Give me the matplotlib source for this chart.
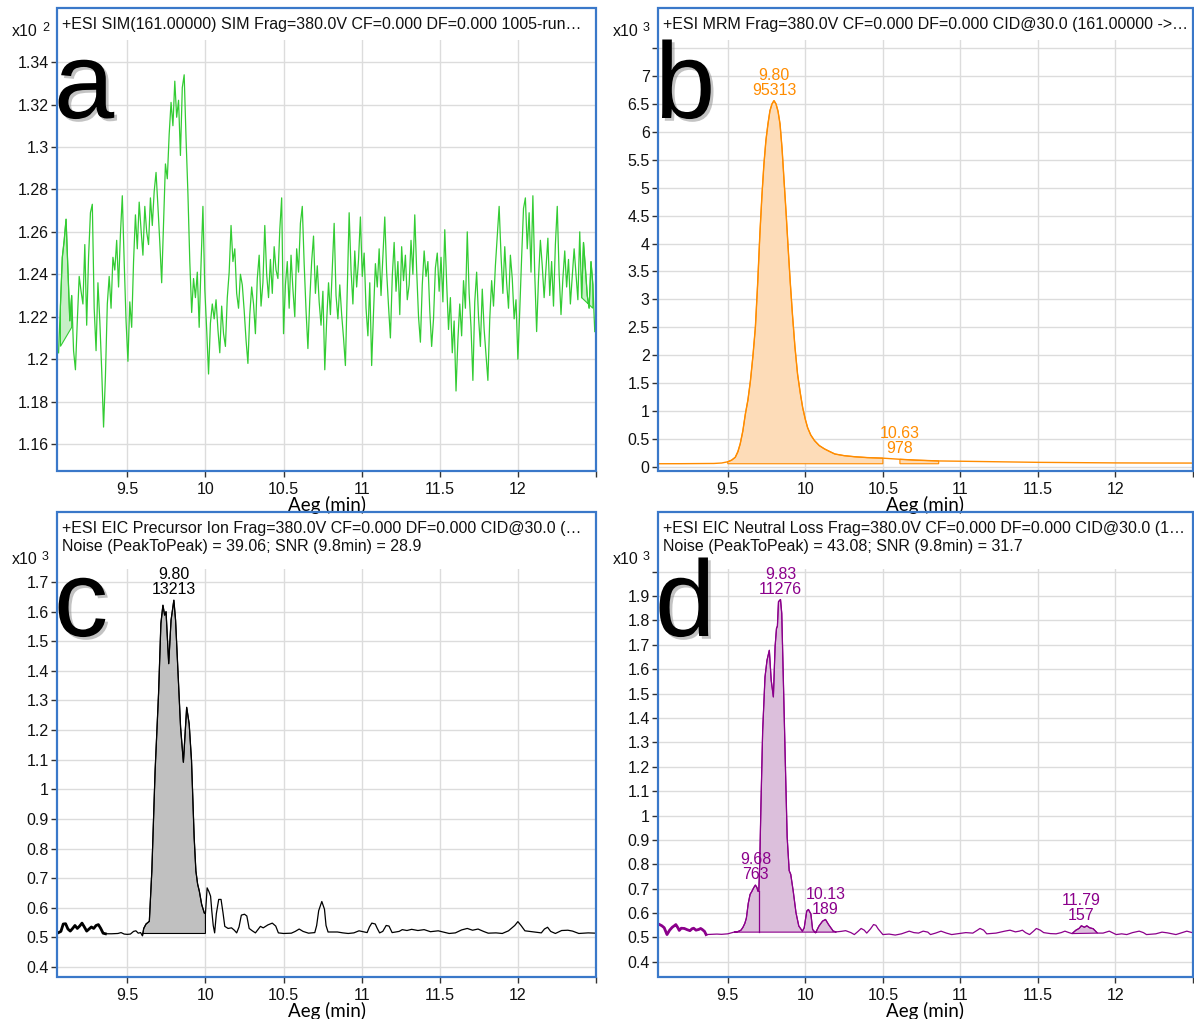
import numpy as np
import matplotlib.pyplot as plt
from matplotlib.patches import Rectangle
import matplotlib.patheffects as pe

plt.rcParams['font.family'] = ['Liberation Sans', 'DejaVu Sans']

W, H = 1194, 1019

# ---------------- data ----------------
# a: SIM trace, counts (shown x10^2), sampled every 0.012 min from 9.06
sim_start, sim_step = 9.06, 0.012
sim_counts = [
    120.3, 122.5, 124.8, 125.6, 126.6, 124.2, 121.8, 123.0, 120.4, 119.5,
    121.8, 123.9, 123.2, 122.6, 125.4, 121.6, 124.8, 126.9, 127.3, 122.4,
    120.4, 123.6, 121.8, 119.5, 116.8, 119.2, 122.6, 123.9, 122.4, 124.8,
    124.2, 125.6, 123.4, 125.9, 127.7, 124.6, 121.8, 119.9, 122.7, 121.5,
    124.6, 126.8, 125.2, 127.4, 126.1, 124.9, 127.2, 126.0, 125.4, 127.6,
    126.3, 127.9, 128.8, 127.2, 125.5, 123.6, 126.4, 129.2, 128.5, 130.6,
    132.1, 131.0, 133.1, 131.4, 132.2, 129.6, 132.8, 133.4, 130.4, 127.8,
    124.6, 122.2, 123.8, 122.9, 124.1, 121.5, 124.5, 127.2, 123.3, 121.4,
    119.3, 121.7, 122.6, 121.9, 122.8, 121.4, 120.3, 122.5, 121.2, 120.6,
    122.9, 124.1, 126.3, 124.6, 125.2, 123.1, 122.4, 124.0, 123.5, 122.3,
    120.9, 119.8, 122.1, 123.4, 122.6, 121.2, 123.8, 124.9, 122.5, 123.6,
    126.3, 124.0, 122.9, 124.7, 123.1, 125.3, 124.2, 123.8, 126.1, 127.6,
    121.2, 123.5, 124.6, 122.4, 124.9, 123.3, 122.0, 125.2, 124.1, 126.4,
    127.2, 124.5, 122.3, 120.5, 122.8, 124.6, 125.8, 123.1, 124.4, 122.7,
    121.6, 123.2, 119.5, 121.8, 123.6, 122.1, 124.3, 126.4, 123.0, 121.9,
    123.5, 122.1, 121.0, 119.7, 123.4, 126.9, 124.2, 122.6, 125.1, 123.4,
    124.7, 126.7, 123.9, 125.0, 122.4, 121.1, 123.6, 119.7, 122.2, 124.5,
    123.4, 125.2, 123.0, 124.8, 126.7, 124.1, 122.5, 121.0, 123.9, 125.5,
    123.2, 124.6, 122.1, 125.3, 123.7, 124.9, 122.8, 123.5, 125.6, 124.0,
    126.8, 124.2, 122.0, 120.8, 123.5, 125.1, 123.9, 124.6, 122.3, 120.6,
    121.9, 124.3, 125.0, 123.2, 124.8, 122.7, 126.1, 123.6, 121.4, 122.9,
    120.3, 121.8, 118.5, 120.9, 122.6, 121.1, 123.7, 122.4, 126.0, 123.1,
    121.5, 119.0, 122.7, 124.1, 122.0, 120.6, 123.3, 121.4, 120.2, 119.0,
    121.9, 123.7, 122.5, 124.4, 125.8, 127.2, 124.9, 123.1, 125.3, 123.6,
    122.4, 124.9, 123.8, 121.9, 122.8, 120.0, 122.3, 124.8, 127.1, 127.6,
    125.2, 126.9, 124.1, 127.7, 124.0, 121.3, 123.8, 125.6, 124.4, 122.9,
    124.3, 125.7, 123.0, 124.6, 122.5, 125.4, 127.2, 124.0, 122.1, 123.8,
    125.1, 123.4, 124.7, 122.6, 123.9, 125.2, 124.0, 122.8, 126.0, 122.9,
    125.5, 124.3, 123.0, 122.4, 124.6, 123.5, 121.3,
]
# integrated regions: (start, base at start, end, base at end)
sim_regions = [(9.072, 120.6, 9.144, 121.5), (12.408, 122.9, 12.48, 122.4)]

# b: MRM trace, counts (shown x10^3)
mrm_time = [9.06, 9.20, 9.30, 9.41, 9.46, 9.50, 9.525, 9.548, 9.565, 9.58,
            9.597, 9.613, 9.63, 9.646, 9.662, 9.678, 9.693, 9.707, 9.72, 9.733,
            9.746, 9.759, 9.772, 9.785, 9.798, 9.811, 9.824, 9.837, 9.85, 9.863,
            9.876, 9.889, 9.903, 9.917, 9.933, 9.95, 9.967, 9.983, 10.0, 10.015,
            10.035, 10.059, 10.09, 10.124, 10.16, 10.19, 10.25, 10.32, 10.40, 10.50,
            10.61, 10.71, 10.86, 11.0, 11.25, 11.5, 11.75, 12.0, 12.25, 12.5]
mrm_counts = [55, 56, 58, 60, 68, 90, 120, 170, 270, 410,
              640, 940, 1200, 1540, 1980, 2500, 3300, 4170, 4850, 5420,
              5850, 6140, 6380, 6500, 6560, 6500, 6370, 6140, 5700, 5120,
              4550, 3930, 3300, 2730, 2150, 1660, 1330, 1060, 850, 700,
              570, 470, 380, 320, 270, 230, 200, 180, 165, 155,
              135, 120, 105, 100, 90, 80, 75, 70, 68, 67]
mrm_regions = [(9.50, 55, 10.50, 55), (10.61, 55, 10.86, 55)]
mrm_peak_rt = [9.80, 10.63]
mrm_peak_area = [95313, 978]

# c: EIC precursor ion, counts (shown x10^3)
pre_time = [9.060, 9.075, 9.090, 9.105, 9.120, 9.135, 9.150, 9.165, 9.180, 9.195,
            9.210, 9.225, 9.240, 9.255, 9.270, 9.285, 9.300, 9.315, 9.330, 9.345,
            9.360, 9.400, 9.440, 9.460, 9.480, 9.500, 9.520, 9.540, 9.555, 9.570,
            9.585, 9.597, 9.605, 9.620, 9.641, 9.657, 9.678, 9.700, 9.715, 9.728,
            9.739, 9.748, 9.765, 9.780, 9.798, 9.809, 9.824, 9.841, 9.859, 9.880,
            9.896, 9.911, 9.928, 9.939, 9.950, 9.961, 9.976, 9.993, 10.000, 10.011,
            10.022, 10.033, 10.041, 10.050, 10.059, 10.070, 10.085, 10.100, 10.112, 10.124,
            10.145, 10.167, 10.185, 10.200, 10.215, 10.230, 10.250, 10.265, 10.280, 10.300,
            10.320, 10.352, 10.370, 10.400, 10.428, 10.450, 10.467, 10.500, 10.550, 10.575,
            10.600, 10.625, 10.660, 10.700, 10.712, 10.725, 10.745, 10.762, 10.772, 10.785,
            10.845, 10.880, 10.914, 10.950, 10.983, 11.010, 11.035, 11.050, 11.065, 11.087,
            11.100, 11.115, 11.135, 11.157, 11.175, 11.195, 11.240, 11.260, 11.290, 11.320,
            11.360, 11.400, 11.440, 11.490, 11.530, 11.560, 11.600, 11.640, 11.676, 11.710,
            11.745, 11.780, 11.810, 11.860, 11.900, 11.940, 11.980, 12.000, 12.020, 12.045,
            12.090, 12.150, 12.170, 12.190, 12.210, 12.240, 12.280, 12.320, 12.350, 12.390,
            12.450, 12.500]
pre_counts = [516, 520, 545, 546, 528, 521, 530, 540, 530, 538,
              548, 535, 521, 528, 535, 530, 540, 543, 530, 514,
              512, 512, 513, 516, 511, 510, 511, 520, 522, 514,
              516, 505, 530, 545, 554, 724, 1063, 1323, 1560, 1622,
              1588, 1600, 1424, 1571, 1639, 1571, 1400, 1210, 1091, 1277,
              1221, 1097, 837, 724, 680, 656, 611, 582, 580, 667,
              655, 639, 588, 540, 515, 580, 628, 628, 585, 537,
              530, 532, 524, 515, 535, 575, 578, 572, 530, 522,
              515, 537, 532, 542, 548, 538, 515, 513, 514, 520,
              528, 520, 514, 516, 540, 590, 621, 595, 540, 518,
              518, 515, 513, 515, 522, 519, 516, 535, 548, 545,
              530, 515, 520, 540, 538, 516, 520, 526, 523, 527,
              523, 526, 519, 522, 517, 513, 515, 525, 530, 524,
              528, 520, 514, 515, 513, 522, 540, 553, 540, 522,
              519, 515, 528, 534, 520, 513, 523, 524, 521, 513,
              515, 514]
pre_regions = [(9.597, 513, 10.000, 513)]
pre_peak_rt = [9.80]
pre_peak_area = [13213]

# d: EIC neutral loss, counts (shown x10^3)
nl_time = [9.060, 9.075, 9.090, 9.108, 9.125, 9.142, 9.155, 9.165, 9.178, 9.187,
           9.200, 9.220, 9.238, 9.256, 9.270, 9.280, 9.295, 9.313, 9.325, 9.335,
           9.350, 9.360, 9.400, 9.430, 9.460, 9.500, 9.530, 9.540, 9.564, 9.585,
           9.598, 9.610, 9.620, 9.632, 9.644, 9.656, 9.667, 9.678, 9.688, 9.694,
           9.700, 9.706, 9.714, 9.725, 9.740, 9.753, 9.768, 9.780, 9.794, 9.805,
           9.814, 9.820, 9.827, 9.840, 9.848, 9.861, 9.872, 9.883, 9.896, 9.906,
           9.922, 9.940, 9.958, 9.981, 9.993, 10.009, 10.020, 10.036, 10.047, 10.066,
           10.088, 10.111, 10.130, 10.150, 10.180, 10.200, 10.230, 10.260, 10.294, 10.316,
           10.340, 10.360, 10.380, 10.396, 10.420, 10.440, 10.455, 10.470, 10.500, 10.540,
           10.580, 10.620, 10.670, 10.700, 10.730, 10.760, 10.790, 10.807, 10.840, 10.875,
           10.910, 10.944, 10.990, 11.035, 11.080, 11.110, 11.126, 11.150, 11.170, 11.230,
           11.286, 11.320, 11.355, 11.380, 11.400, 11.420, 11.446, 11.470, 11.490, 11.515,
           11.537, 11.580, 11.617, 11.650, 11.674, 11.700, 11.720, 11.745, 11.765, 11.780,
           11.800, 11.815, 11.833, 11.856, 11.884, 11.920, 11.960, 12.005, 12.040, 12.073,
           12.110, 12.153, 12.180, 12.200, 12.260, 12.300, 12.335, 12.390, 12.430, 12.460,
           12.506]
nl_counts = [553, 548, 540, 512, 530, 542, 548, 553, 540, 529,
             538, 537, 532, 528, 536, 538, 530, 533, 537, 533,
             525, 512, 513, 514, 513, 515, 520, 522, 524, 530,
             542, 558, 580, 640, 677, 690, 704, 715, 705, 690,
             690, 801, 1048, 1349, 1568, 1637, 1678, 1555, 1486, 1692,
             1767, 1777, 1877, 1886, 1829, 1486, 1185, 911, 774, 759,
             690, 601, 547, 526, 540, 608, 615, 596, 533, 519,
             547, 567, 574, 553, 526, 523, 525, 528, 520, 512,
             525, 537, 530, 518, 535, 553, 550, 535, 512, 514,
             510, 515, 526, 520, 518, 526, 522, 512, 518, 526,
             518, 512, 516, 520, 518, 530, 537, 530, 515, 518,
             526, 530, 523, 526, 530, 520, 512, 525, 537, 530,
             520, 516, 515, 520, 526, 520, 516, 530, 537, 548,
             542, 548, 540, 536, 518, 518, 526, 512, 515, 512,
             520, 526, 520, 512, 515, 522, 519, 512, 520, 526,
             518]
nl_regions = [(9.540, 522, 10.066, 522), (10.066, 522, 10.200, 522),
              (11.720, 516, 11.884, 518)]
nl_split_rt = 9.700
nl_peak_rt = [9.68, 9.83, 10.13, 11.79]
nl_peak_area = [763, 11276, 189, 157]

headers = [
    ["+ESI SIM(161.00000) SIM Frag=380.0V CF=0.000 DF=0.000 1005-run\u2026"],
    ["+ESI MRM Frag=380.0V CF=0.000 DF=0.000 CID@30.0 (161.00000 ->\u2026"],
    ["+ESI EIC Precursor Ion Frag=380.0V CF=0.000 DF=0.000 CID@30.0 (\u2026",
     "Noise (PeakToPeak) = 39.06; SNR (9.8min) = 28.9"],
    ["+ESI EIC Neutral Loss Frag=380.0V CF=0.000 DF=0.000 CID@30.0 (1\u2026",
     "Noise (PeakToPeak) = 43.08; SNR (9.8min) = 31.7"],
]

# ---------------- figure ----------------
fig = plt.figure(figsize=(W / 100, H / 100), dpi=100)
frame_blue = '#3a78c9'
fs = 11.5


def px_box(l, t, r, b):
    return [l / W, 1 - b / H, (r - l) / W, (b - t) / H]


def make_panel(frame, plot_top, ylim, yticks, extra_tick, header, letter, power):
    l, t, r, b = frame
    ax = fig.add_axes(px_box(l, plot_top, r, b))
    ax.set_xlim(9.05, 12.5)
    ax.set_ylim(*ylim)
    xt = [9.5, 10, 10.5, 11, 11.5, 12]
    ax.set_xticks(xt + [12.5])
    ax.set_xticklabels(['{:g}'.format(v) for v in xt] + [''])
    yt = list(yticks)
    ylab = ['{:g}'.format(round(v, 3)) for v in yt]
    if extra_tick is not None:
        yt.append(extra_tick)
        ylab.append('')
    ax.set_yticks(yt)
    ax.set_yticklabels(ylab)
    for s in ['top', 'right', 'bottom']:
        ax.spines[s].set_visible(False)
    ax.spines['left'].set_linewidth(1.3)
    ax.tick_params(axis='both', labelsize=fs, length=4, width=1, color='#333333',
                   labelcolor='#111111')
    ax.tick_params(axis='x', pad=4)
    ax.tick_params(axis='y', pad=2)
    ax.grid(True, color='#dcdcdc', lw=1)
    ax.set_axisbelow(True)
    ax.set_xlabel('Aeg (min)', family=['Lato', 'DejaVu Sans'], fontsize=13.5, labelpad=-1)
    fig.add_artist(Rectangle((l / W, 1 - b / H), (r - l) / W, (b - t) / H,
                             transform=fig.transFigure, fill=False,
                             edgecolor=frame_blue, lw=1.6, zorder=5))
    for i, line in enumerate(header):
        fig.text((l + 5) / W, 1 - (t + 17 + 18 * i) / H, line, fontsize=fs,
                 va='center', ha='left', color='#111111')
    fig.text((l - 45) / W, 1 - (plot_top - 9) / H, 'x10', fontsize=fs,
             va='center', ha='left', color='#111111')
    fig.text((l - 15) / W, 1 - (plot_top - 12) / H, power, fontsize=9,
             va='center', ha='left', color='#111111')
    base_y = t + 110 if len(header) == 1 else t + 124
    fig.text((l - 3) / W, 1 - base_y / H, letter, fontsize=78, va='baseline',
             ha='left', color='black', zorder=6,
             path_effects=[pe.SimplePatchShadow(offset=(2, -2), shadow_rgbFace='#888888',
                                                alpha=0.5), pe.Normal()])
    return ax


def fill_region(ax, t, v, region, face, edge):
    t0, b0, t1, b1 = region
    t = np.asarray(t)
    v = np.asarray(v)
    m = (t >= t0 - 1e-9) & (t <= t1 + 1e-9)
    xs = np.concatenate([t[m], [t1, t0]])
    ys = np.concatenate([v[m], [b1, b0]])
    ax.fill(xs, ys, facecolor=face, edgecolor=edge, lw=0.8, zorder=2)


def label_peaks(ax, t, v, rts, areas, scale, color, win=0.021):
    t = np.asarray(t)
    v = np.asarray(v)
    for rt, area in zip(rts, areas):
        m = (t >= rt - win) & (t <= rt + win)
        k = np.argmax(v[m])
        ax.annotate('{:.2f}\n{}'.format(rt, area), xy=(t[m][k], v[m][k] / scale),
                    xytext=(0, 2), textcoords='offset points', ha='center',
                    va='bottom', fontsize=fs, color=color, linespacing=1.0, zorder=4)


# a
ax_a = make_panel((57, 8, 596, 471), 40, (1.1473, 1.3504),
                  np.arange(1.16, 1.341, 0.02), None, headers[0], 'a', '2')
sim_time = sim_start + sim_step * np.arange(len(sim_counts))
sim_disp = np.array(sim_counts) / 100
for reg in sim_regions:
    fill_region(ax_a, sim_time, sim_disp, (reg[0], reg[1] / 100, reg[2], reg[3] / 100),
                '#c6efc6', '#33cc33')
ax_a.plot(sim_time, sim_disp, color='#33cc33', lw=0.9, zorder=3)

# b
ax_b = make_panel((658, 8, 1193, 471), 40, (-0.075, 7.646),
                  np.arange(0, 7.01, 0.5), 7.5, headers[1], 'b', '3')
mrm_disp = np.array(mrm_counts) / 1000
for reg in mrm_regions:
    fill_region(ax_b, mrm_time, mrm_disp, (reg[0], reg[1] / 1000, reg[2], reg[3] / 1000),
                '#fddcb8', '#ff8c00')
ax_b.plot(mrm_time, mrm_disp, color='#ff8c00', lw=1.0, zorder=3)
label_peaks(ax_b, mrm_time, mrm_counts, mrm_peak_rt, mrm_peak_area, 1000, '#ff8c00', win=0.05)

# c
ax_c = make_panel((57, 512, 596, 977), 569, (0.366, 1.744),
                  np.arange(0.4, 1.71, 0.1), None, headers[2], 'c', '3')
pre_disp = np.array(pre_counts) / 1000
for reg in pre_regions:
    fill_region(ax_c, pre_time, pre_disp, (reg[0], reg[1] / 1000, reg[2], reg[3] / 1000),
                '#c0c0c0', 'black')
ax_c.plot(pre_time, pre_disp, color='black', lw=0.9, zorder=3)
bold = np.array(pre_time) <= 9.36
ax_c.plot(np.array(pre_time)[bold], pre_disp[bold], color='black', lw=2.0, zorder=3)
label_peaks(ax_c, pre_time, pre_counts, pre_peak_rt, pre_peak_area, 1000, 'black')

# d
ax_d = make_panel((658, 512, 1193, 977), 569, (0.338, 2.011),
                  np.arange(0.4, 1.91, 0.1), 2.0, headers[3], 'd', '3')
nl_disp = np.array(nl_counts) / 1000
for reg in nl_regions:
    fill_region(ax_d, nl_time, nl_disp, (reg[0], reg[1] / 1000, reg[2], reg[3] / 1000),
                '#dcbfdc', '#8b008b')
split_val = nl_disp[list(nl_time).index(nl_split_rt)]
ax_d.plot([nl_split_rt, nl_split_rt], [nl_regions[0][1] / 1000, split_val],
          color='#8b008b', lw=0.9, zorder=3)
ax_d.plot(nl_time, nl_disp, color='#8b008b', lw=0.9, zorder=3)
bold = np.array(nl_time) <= 9.36
ax_d.plot(np.array(nl_time)[bold], nl_disp[bold], color='#8b008b', lw=2.0, zorder=3)
label_peaks(ax_d, nl_time, nl_counts, nl_peak_rt, nl_peak_area, 1000, '#8b008b')

fig.savefig('out.png', dpi=100)
